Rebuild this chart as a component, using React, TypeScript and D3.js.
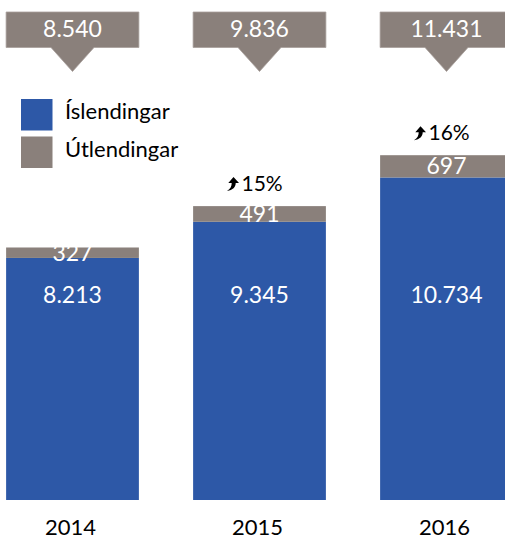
import React from "react";
import * as d3 from "d3";

const years = ["2014", "2015", "2016"];
const islendingar = [8213, 9345, 10734];
const utlendingar = [327, 491, 697];
const totals = [8540, 9836, 11431];
const islLabels = ["8.213", "9.345", "10.734"];
const utlLabels = ["327", "491", "697"];
const totalLabels = ["8.540", "9.836", "11.431"];
const growthLabels = ["", "15%", "16%"];
const legendLabels = ["Íslendingar", "Útlendingar"];

const W = 505;
const H = 539;
const BLUE = "#2D58A7";
const GRAY = "#8A807B";
const FONT = "Lato, Carlito, Calibri, 'Open Sans', sans-serif";

export default function App() {
  const x = d3
    .scaleBand<string>()
    .domain(years)
    .range([-21, 540])
    .paddingInner(0.29)
    .paddingOuter(0.145);
  const y = d3.scaleLinear().domain([630, 11431]).range([500, 155.2]);
  const bw = x.bandwidth();

  const arrowPath = "M9,0 L14.5,6 L11.2,6 C11.2,10 8.5,13 2.5,14 C6,12 7.2,9 7.2,6 L3.8,6 Z";

  return (
    <svg
      width={W}
      height={H}
      style={{ position: "absolute", left: 0, top: 0, background: "#fff" }}
      fontFamily={FONT}
    >
      {years.map((yr, i) => {
        const x0 = x(yr)!;
        const cx = x0 + bw / 2;
        const yBlue = y(islendingar[i]);
        const yTot = y(islendingar[i] + utlendingar[i]);
        return (
          <g key={yr}>
            <path
              d={`M${x0},12 H${x0 + bw} V47.5 H${cx + 21.5} L${cx},71.5 L${cx - 21.5},47.5 H${x0} Z`}
              fill={GRAY}
              stroke="#a8a09c"
              strokeWidth={0.8}
            />
            <text x={cx} y={36.5} textAnchor="middle" fill="#fff" fontSize={23}>
              {totalLabels[i]}
            </text>
            <rect x={x0} y={yBlue} width={bw} height={y(630) - yBlue} fill={BLUE} />
            <rect x={x0} y={yTot} width={bw} height={yBlue - yTot} fill={GRAY} />
            <text x={cx} y={(yTot + yBlue) / 2 + 8} textAnchor="middle" fill="#fff" fontSize={23}>
              {utlLabels[i]}
            </text>
            <text x={cx} y={303} textAnchor="middle" fill="#fff" fontSize={23}>
              {islLabels[i]}
            </text>
            {growthLabels[i] && (
              <g>
                <path d={arrowPath} transform={`translate(${cx - 35},${y(totals[i]) - 29})`} fill="#000" />
                <text x={cx - 18} y={y(totals[i]) - 15} fill="#000" fontSize={21}>
                  {growthLabels[i]}
                </text>
              </g>
            )}
            <text x={cx - 2} y={534.5} textAnchor="middle" fill="#000" fontSize={22}>
              {yr}
            </text>
          </g>
        );
      })}
      {legendLabels.map((lab, i) => (
        <g key={lab} transform={`translate(21,${99 + i * 37.5})`}>
          <rect width={31.5} height={31.5} fill={i === 0 ? BLUE : GRAY} />
          <text x={44} y={20} fontSize={22} fill="#000">
            {lab}
          </text>
        </g>
      ))}
    </svg>
  );
}
